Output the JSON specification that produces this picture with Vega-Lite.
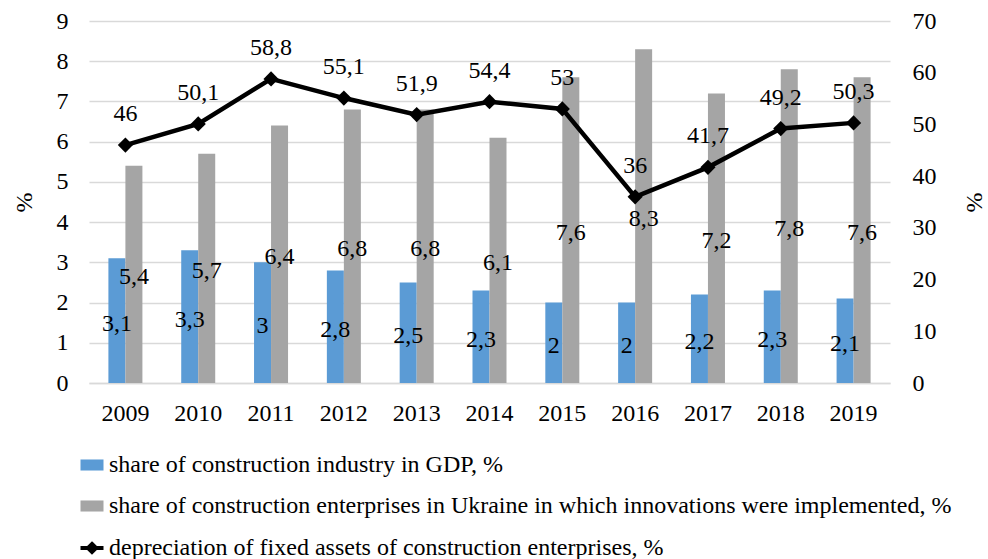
{
  "$schema": "https://vega.github.io/schema/vega-lite/v6.json",
  "width": 801,
  "height": 362,
  "autosize": {"type": "none"},
  "padding": {"left": 89, "top": 21, "right": 98, "bottom": 176},
  "background": "white",
  "config": {
    "font": "Times New Roman, Liberation Serif, serif",
    "view": {"stroke": null},
    "locale": {"number": {"decimal": ",", "thousands": " ", "grouping": [3], "currency": ["", ""]}},
    "axis": {"labelFont": "Times New Roman, Liberation Serif, serif", "labelFontSize": 24, "labelColor": "#000000", "titleFont": "Times New Roman, Liberation Serif, serif", "titleFontSize": 24, "titleFontWeight": "normal", "titleColor": "#000000", "ticks": false},
    "legend": {"labelFont": "Times New Roman, Liberation Serif, serif", "labelFontSize": 24, "labelColor": "#000000"}
  },
  "datasets": {
    "bars": [
      {"year": "2009", "series": "share of construction industry in GDP, %", "value": 3.1},
      {"year": "2010", "series": "share of construction industry in GDP, %", "value": 3.3},
      {"year": "2011", "series": "share of construction industry in GDP, %", "value": 3.0},
      {"year": "2012", "series": "share of construction industry in GDP, %", "value": 2.8},
      {"year": "2013", "series": "share of construction industry in GDP, %", "value": 2.5},
      {"year": "2014", "series": "share of construction industry in GDP, %", "value": 2.3},
      {"year": "2015", "series": "share of construction industry in GDP, %", "value": 2.0},
      {"year": "2016", "series": "share of construction industry in GDP, %", "value": 2.0},
      {"year": "2017", "series": "share of construction industry in GDP, %", "value": 2.2},
      {"year": "2018", "series": "share of construction industry in GDP, %", "value": 2.3},
      {"year": "2019", "series": "share of construction industry in GDP, %", "value": 2.1},
      {"year": "2009", "series": "share of construction enterprises in Ukraine in which innovations were implemented, %", "value": 5.4},
      {"year": "2010", "series": "share of construction enterprises in Ukraine in which innovations were implemented, %", "value": 5.7},
      {"year": "2011", "series": "share of construction enterprises in Ukraine in which innovations were implemented, %", "value": 6.4},
      {"year": "2012", "series": "share of construction enterprises in Ukraine in which innovations were implemented, %", "value": 6.8},
      {"year": "2013", "series": "share of construction enterprises in Ukraine in which innovations were implemented, %", "value": 6.8},
      {"year": "2014", "series": "share of construction enterprises in Ukraine in which innovations were implemented, %", "value": 6.1},
      {"year": "2015", "series": "share of construction enterprises in Ukraine in which innovations were implemented, %", "value": 7.6},
      {"year": "2016", "series": "share of construction enterprises in Ukraine in which innovations were implemented, %", "value": 8.3},
      {"year": "2017", "series": "share of construction enterprises in Ukraine in which innovations were implemented, %", "value": 7.2},
      {"year": "2018", "series": "share of construction enterprises in Ukraine in which innovations were implemented, %", "value": 7.8},
      {"year": "2019", "series": "share of construction enterprises in Ukraine in which innovations were implemented, %", "value": 7.6}
    ],
    "dep": [
      {"year": "2009", "value": 46},
      {"year": "2010", "value": 50.1},
      {"year": "2011", "value": 58.8},
      {"year": "2012", "value": 55.1},
      {"year": "2013", "value": 51.9},
      {"year": "2014", "value": 54.4},
      {"year": "2015", "value": 53},
      {"year": "2016", "value": 36},
      {"year": "2017", "value": 41.7},
      {"year": "2018", "value": 49.2},
      {"year": "2019", "value": 50.3}
    ]
  },
  "resolve": {"scale": {"y": "independent"}},
  "layer": [
    {
      "data": {"name": "bars"},
      "mark": {"type": "bar"},
      "encoding": {
        "x": {"field": "year", "type": "nominal", "sort": null,
              "scale": {"paddingInner": 0.533, "paddingOuter": 0.2665},
              "axis": {"title": null, "labelAngle": 0, "domainColor": "#D9D9D9", "domainWidth": 1.5, "labelPadding": 18}},
        "xOffset": {"field": "series", "type": "nominal", "sort": null,
                    "scale": {"domain": ["share of construction industry in GDP, %", "share of construction enterprises in Ukraine in which innovations were implemented, %"], "paddingInner": 0, "paddingOuter": 0}},
        "y": {"field": "value", "type": "quantitative",
              "scale": {"domain": [0, 9], "nice": false},
              "axis": {"orient": "left", "title": "%", "titleAngle": 270, "titlePadding": 20, "values": [0,1,2,3,4,5,6,7,8,9], "grid": true, "gridColor": "#D9D9D9", "gridWidth": 1.5, "domain": false, "labelPadding": 21}},
        "color": {"field": "series", "type": "nominal", "sort": null,
                  "scale": {"domain": ["share of construction industry in GDP, %", "share of construction enterprises in Ukraine in which innovations were implemented, %", "depreciation of fixed assets of construction enterprises, %"],
                            "range": ["#5B9BD5", "#A5A5A5", "#000000"]},
                  "legend": {"title": null, "orient": "none", "legendX": -9, "legendY": 432, "direction": "vertical",
                             "labelLimit": 1000, "symbolSize": 529, "rowPadding": 17, "labelOffset": 5,
                             "encode": {"symbols": {"update": {
                               "shape": {"signal": "datum.value === 'depreciation of fixed assets of construction enterprises, %' ? 'M-1,0H1M0,-0.35L0.35,0L0,0.35L-0.35,0Z' : 'M-1,-0.48H1V0.48H-1Z'"},
                               "fill": {"signal": "datum.value === 'share of construction industry in GDP, %' ? '#5B9BD5' : (datum.value === 'depreciation of fixed assets of construction enterprises, %' ? '#000000' : '#A5A5A5')"},
                               "stroke": {"signal": "datum.value === 'depreciation of fixed assets of construction enterprises, %' ? '#000000' : 'transparent'"},
                               "strokeWidth": {"signal": "datum.value === 'depreciation of fixed assets of construction enterprises, %' ? 4 : 0"},
                               "opacity": {"value": 1}
                             }}}}}
      }
    },
    {
      "data": {"name": "bars"},
      "mark": {"type": "text", "baseline": "middle", "align": "center", "dy": 3, "fontSize": 24, "font": "Times New Roman, Liberation Serif, serif", "color": "#000000"},
      "encoding": {
        "x": {"field": "year", "type": "nominal", "sort": null},
        "xOffset": {"field": "series", "type": "nominal", "sort": null},
        "y": {"field": "value", "type": "quantitative", "scale": {"domain": [0, 18], "nice": false}, "axis": null},
        "text": {"field": "value", "type": "quantitative", "format": ".1~f"}
      }
    },
    {
      "data": {"name": "dep"},
      "encoding": {
        "x": {"field": "year", "type": "nominal", "sort": null},
        "y": {"field": "value", "type": "quantitative",
              "scale": {"domain": [0, 70], "nice": false},
              "axis": {"orient": "right", "title": "%", "titleAngle": 270, "titlePadding": 50, "values": [0,10,20,30,40,50,60,70], "grid": false, "domain": false, "labelPadding": 22}}
      },
      "layer": [
        {"mark": {"type": "line", "color": "#000000", "strokeWidth": 4.5}},
        {"mark": {"type": "point", "shape": "diamond", "filled": true, "size": 230, "color": "#000000", "opacity": 1}},
        {"mark": {"type": "text", "baseline": "middle", "align": "center", "dy": -31, "fontSize": 24, "font": "Times New Roman, Liberation Serif, serif", "color": "#000000"},
         "encoding": {"text": {"field": "value", "type": "quantitative", "format": ".1~f"}}}
      ]
    }
  ]
}
